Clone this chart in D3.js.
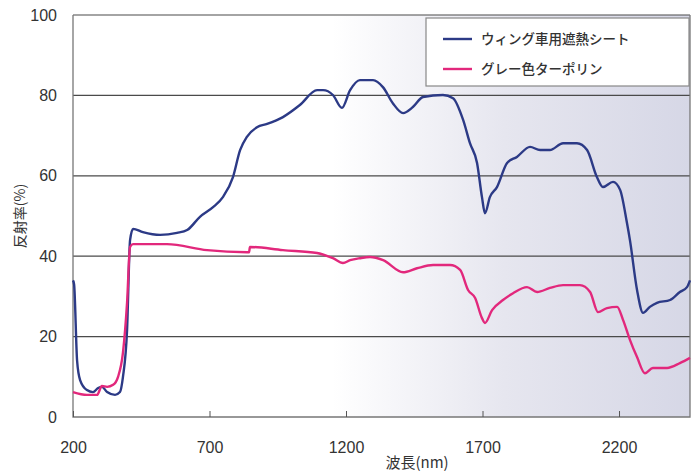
<!DOCTYPE html>
<html>
<head>
<meta charset="utf-8">
<script src="https://cdn.jsdelivr.net/npm/d3@7"></script>
<style>
body { margin: 0; background: #fff; }
text { font-family: "Liberation Sans", Arial, sans-serif; fill: #333; }
.jp { font-family: "Noto Sans CJK JP", sans-serif; }
</style>
</head>
<body>
<svg id="chart" width="697" height="472"></svg>
<script>
// wavelength (nm) / reflectance (%)
const sheetNm = [200, 204, 215, 226, 251, 273, 292, 306, 325, 354, 372, 383, 398, 409, 420, 456, 519, 581, 618, 665, 713, 749, 786, 812, 837, 874, 911, 969, 1031, 1094, 1116, 1152, 1185, 1215, 1251, 1299, 1336, 1372, 1409, 1445, 1482, 1555, 1592, 1629, 1654, 1680, 1698, 1709, 1727, 1753, 1790, 1826, 1874, 1911, 1947, 1995, 2046, 2083, 2119, 2141, 2178, 2204, 2229, 2240, 2266, 2288, 2313, 2339, 2387, 2423, 2449, 2460];
const sheetVal = [34, 33, 14, 9.2, 6.7, 6.2, 7.2, 7.5, 6.2, 5.5, 6.2, 10, 21.6, 44, 46.8, 46, 45.3, 45.8, 46.5, 49.8, 52.2, 54.7, 59.7, 66.4, 69.7, 72.1, 72.9, 74.6, 77.6, 81.3, 81.3, 80.1, 76.9, 81.3, 83.8, 83.8, 82, 78, 75.6, 77.1, 79.6, 80.1, 79.3, 73.9, 68.1, 63.2, 54.7, 50.7, 54.7, 57.2, 63.2, 64.7, 67.2, 66.4, 66.4, 68.1, 68.1, 66.4, 59.7, 57.2, 58.5, 56.5, 48.3, 44, 31.6, 25.9, 27.4, 28.4, 29.1, 31.1, 32.3, 34];

const tarpNm = [200, 251, 288, 306, 325, 347, 365, 383, 398, 409, 420, 544, 691, 837, 845, 848, 969, 1094, 1152, 1189, 1215, 1251, 1288, 1336, 1409, 1460, 1519, 1581, 1618, 1647, 1673, 1698, 1709, 1735, 1775, 1812, 1863, 1900, 1947, 1995, 2057, 2094, 2123, 2156, 2193, 2215, 2240, 2266, 2295, 2324, 2376, 2423, 2460];
const tarpVal = [6.2, 5.5, 5.5, 7.7, 7.5, 8, 10, 16, 28.4, 42.3, 43, 43, 41.5, 41, 41, 42.3, 41.5, 40.8, 39.5, 38.3, 39, 39.5, 39.8, 39, 36, 37, 37.8, 37.8, 36.6, 31.6, 29.6, 24.6, 23.4, 26.6, 29.1, 30.8, 32.3, 31.1, 32.1, 32.8, 32.8, 31.1, 26.1, 27.1, 27.4, 24.1, 19.2, 14.9, 10.9, 12.2, 12.2, 13.4, 14.7];

const xTicks = [200, 700, 1200, 1700, 2200];
const yTicks = [0, 20, 40, 60, 80, 100];
const seriesNames = ['ウィング車用遮熱シート', 'グレー色ターポリン'];
const seriesColors = ['#2c3a86', '#e2287c'];

const svg = d3.select('#chart');
const plotL = 73, plotR = 690, plotT = 15, plotB = 417;

const x = d3.scaleLinear().domain([200, 2460]).range([plotL, plotR]);
const y = d3.scaleLinear().domain([0, 100]).range([plotB, plotT]);

// faded background of the scan, white on the left, grey-blue on the right
const grad = svg.append('defs').append('linearGradient')
	.attr('id', 'bg').attr('x1', '0%').attr('x2', '100%');
grad.append('stop').attr('offset', '0.42').attr('stop-color', '#ffffff');
grad.append('stop').attr('offset', '0.7').attr('stop-color', '#e6e6ef');
grad.append('stop').attr('offset', '1').attr('stop-color', '#d6d7e6');

svg.append('rect')
	.attr('x', plotL).attr('y', plotT)
	.attr('width', plotR - plotL).attr('height', plotB - plotT)
	.attr('fill', 'url(#bg)');

// gridlines
svg.append('g')
	.selectAll('line')
	.data(yTicks.filter(d => d > 0))
	.enter().append('line')
		.attr('x1', plotL).attr('x2', plotR)
		.attr('y1', d => y(d)).attr('y2', d => y(d))
		.attr('stroke', '#4a4a4a')
		.attr('stroke-width', 1.2);

// frame: left axis, bottom axis, right edge
svg.append('path')
	.attr('d', `M${plotL},${plotT}V${plotB}H${plotR}V${plotT}`)
	.attr('fill', 'none')
	.attr('stroke', '#777')
	.attr('stroke-width', 1.3);

// y axis labels
const yAxis = d3.axisLeft(y).tickValues(yTicks).tickSize(0).tickPadding(16);
svg.append('g')
	.attr('transform', `translate(${plotL},0)`)
	.call(yAxis)
	.call(g => g.select('.domain').remove())
	.call(g => g.selectAll('text')
		.attr('font-size', 16)
		.style('font-family', '"Liberation Sans", Arial, sans-serif')
		.attr('fill', '#333'));

// x axis labels with small inward ticks
const xAxis = d3.axisBottom(x).tickValues(xTicks).tickFormat(d3.format('d'))
	.tickSizeInner(-6).tickSizeOuter(0).tickPadding(25);
svg.append('g')
	.attr('transform', `translate(0,${plotB})`)
	.call(xAxis)
	.call(g => g.select('.domain').remove())
	.call(g => g.selectAll('line').attr('stroke', '#555'))
	.call(g => g.selectAll('text')
		.attr('font-size', 16)
		.style('font-family', '"Liberation Sans", Arial, sans-serif')
		.attr('fill', '#333'));

// axis titles
svg.append('text')
	.attr('class', 'jp')
	.attr('x', 417).attr('y', 468)
	.attr('text-anchor', 'middle')
	.attr('font-size', 15)
	.text('波長(nm)');

svg.append('text')
	.attr('class', 'jp')
	.attr('transform', 'translate(25,216) rotate(-90)')
	.attr('text-anchor', 'middle')
	.attr('font-size', 14)
	.text('反射率(%)');

// series lines
const line = d3.line()
	.x(d => x(d[0]))
	.y(d => y(d[1]))
	.curve(d3.curveMonotoneX);

const series = [
	d3.zip(sheetNm, sheetVal),
	d3.zip(tarpNm, tarpVal),
];

svg.append('g')
	.selectAll('path')
	.data(series)
	.enter().append('path')
		.attr('d', line)
		.attr('fill', 'none')
		.attr('stroke', (d, i) => seriesColors[i])
		.attr('stroke-width', 2.4)
		.attr('stroke-linejoin', 'round');

// legend
const legend = svg.append('g');
legend.append('rect')
	.attr('x', 426).attr('y', 18)
	.attr('width', 263).attr('height', 68)
	.attr('fill', '#fff')
	.attr('stroke', '#888')
	.attr('stroke-width', 1.2);

const item = legend.selectAll('g.item')
	.data(seriesNames)
	.enter().append('g')
		.attr('class', 'item')
		.attr('transform', (d, i) => `translate(0,${39 + i * 30})`);

item.append('line')
	.attr('x1', 443).attr('x2', 472)
	.attr('stroke', (d, i) => seriesColors[i])
	.attr('stroke-width', 2.4);

item.append('text')
	.attr('class', 'jp')
	.attr('x', 481).attr('dy', '0.35em')
	.attr('font-size', 13.5)
	.attr('font-weight', 500)
	.text(d => d);
</script>
</body>
</html>
